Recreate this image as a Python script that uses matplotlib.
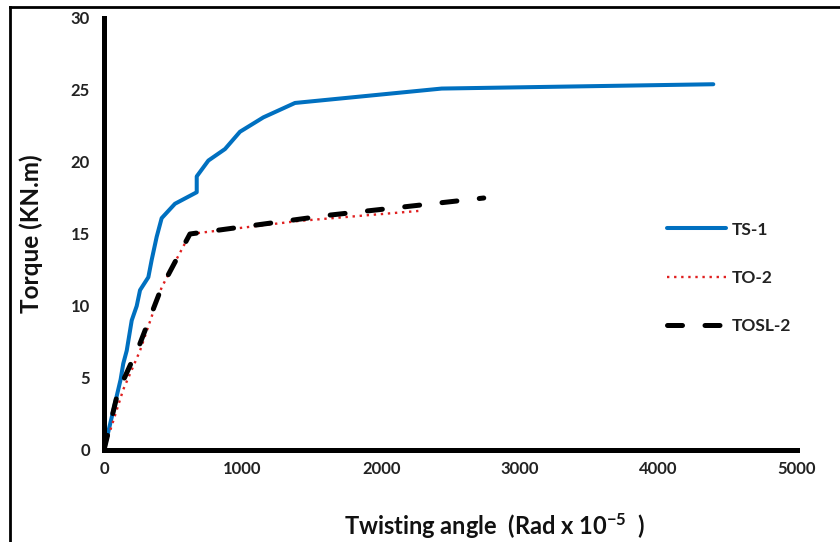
import matplotlib
matplotlib.use("Agg")
import matplotlib.pyplot as plt
from matplotlib.lines import Line2D

# Torque vs twisting angle for three beam specimens
ts1_angle = [0, 120, 139, 164, 200, 236, 260, 320, 344, 380, 416, 512, 669, 669,
             753, 873, 981, 1150, 1378, 2436, 4396]
ts1_torque = [0, 4.9, 6.0, 6.9, 9.0, 10.0, 11.1, 12.0, 13.2, 14.8, 16.1, 17.1,
              17.9, 19.0, 20.1, 20.9, 22.1, 23.1, 24.1, 25.1, 25.4]

to2_angle = [0, 139, 260, 416, 620, 1400, 2268]
to2_torque = [0, 4.2, 6.9, 11.3, 15.0, 15.9, 16.6]

tosl2_angle = [0, 100, 260, 416, 548, 620, 1618, 2740]
tosl2_torque = [0, 4.0, 7.4, 11.3, 13.7, 15.0, 16.3, 17.5]

x_ticks = [0, 1000, 2000, 3000, 4000, 5000]
y_ticks = [0, 5, 10, 15, 20, 25, 30]

FONT = "Lato"
plt.rcParams["mathtext.fontset"] = "custom"
plt.rcParams["mathtext.rm"] = "Lato:bold"
plt.rcParams["mathtext.bf"] = "Lato:bold"
plt.rcParams["mathtext.it"] = "Lato:bold"
plt.rcParams["mathtext.default"] = "bf"

fig = plt.figure(figsize=(8.4, 5.42), dpi=100)
ax = fig.add_axes([104 / 840, 92 / 542, 693 / 840, 432 / 542])

ax.plot(ts1_angle, ts1_torque, color="#0070C0", lw=2.9, solid_capstyle="round",
        solid_joinstyle="round", label="TS-1")
ax.plot(to2_angle, to2_torque, color="#E02020", lw=1.7, linestyle=(0, (1, 2.0)),
        label="TO-2")
ax.plot(tosl2_angle, tosl2_torque, color="black", lw=3.6,
        linestyle=(0, (3, 4.5)), dash_capstyle="round", label="TOSL-2")

ax.set_xlim(0, 5000)
ax.set_ylim(0, 30)
ax.set_xticks(x_ticks)
ax.set_yticks(y_ticks)
ax.tick_params(length=0, labelsize=12)
ax.tick_params(axis="x", pad=8)
ax.tick_params(axis="y", pad=10)
for lab in ax.get_xticklabels() + ax.get_yticklabels():
    lab.set_fontfamily(FONT)
    lab.set_fontweight("bold")
    lab.set_color("#222222")

for side in ("top", "right"):
    ax.spines[side].set_visible(False)
for side in ("left", "bottom"):
    ax.spines[side].set_linewidth(3.6)
    ax.spines[side].set_color("black")

ax.set_xlabel(r"Twisting angle  (Rad x 10$^{-5}$  )", fontsize=17,
              fontweight="bold", family=FONT, color="#111111")
ax.xaxis.set_label_coords(0.564, -0.143)
ax.set_ylabel("Torque (KN.m)", fontsize=17.5, fontweight="bold", family=FONT,
              color="#111111")
ax.yaxis.set_label_coords(-0.088, 0.5)

leg = ax.legend(loc="upper left", bbox_to_anchor=(0.79, 0.565), frameon=False,
                handlelength=3.4, labelspacing=1.85, handletextpad=0.3,
                prop={"family": FONT, "weight": "bold", "size": 12.5})
for t in leg.get_texts():
    t.set_color("#222222")

# Frame lines along top and left edges of the figure
fig.add_artist(Line2D([10 / 840, 1], [1 - 7 / 542, 1 - 7 / 542],
                      transform=fig.transFigure, color="black", lw=2))
fig.add_artist(Line2D([10 / 840, 10 / 840], [0, 1 - 7 / 542],
                      transform=fig.transFigure, color="black", lw=2))

fig.savefig("out.png", dpi=100)
